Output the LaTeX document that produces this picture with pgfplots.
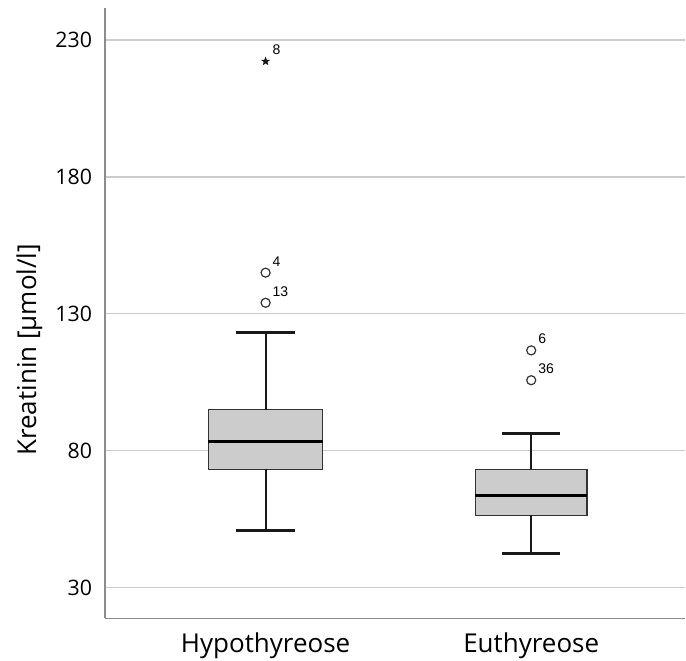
\documentclass[border=0pt]{standalone}
\usepackage{pgfplots}
\pgfplotsset{compat=1.18}
\usetikzlibrary{plotmarks}
\usepackage{fontspec}
\setmainfont{Open Sans}
\newfontfamily\arial{Liberation Sans}
\definecolor{boxfill}{HTML}{CCCCCC}
\definecolor{gridc}{HTML}{CCCCCC}
\definecolor{axc}{HTML}{8C8C8C}
\pgfdeclareplotmark{fstar}{%
  \pgfpathmoveto{\pgfqpointpolar{90}{\pgfplotmarksize}}%
  \pgfpathlineto{\pgfqpointpolar{126}{0.42\pgfplotmarksize}}%
  \pgfpathlineto{\pgfqpointpolar{162}{\pgfplotmarksize}}%
  \pgfpathlineto{\pgfqpointpolar{198}{0.42\pgfplotmarksize}}%
  \pgfpathlineto{\pgfqpointpolar{234}{\pgfplotmarksize}}%
  \pgfpathlineto{\pgfqpointpolar{270}{0.42\pgfplotmarksize}}%
  \pgfpathlineto{\pgfqpointpolar{306}{\pgfplotmarksize}}%
  \pgfpathlineto{\pgfqpointpolar{342}{0.42\pgfplotmarksize}}%
  \pgfpathlineto{\pgfqpointpolar{18}{\pgfplotmarksize}}%
  \pgfpathlineto{\pgfqpointpolar{54}{0.42\pgfplotmarksize}}%
  \pgfpathclose
  \pgfusepathqfill
}
\begin{document}
\begin{tikzpicture}
\begin{axis}[
  name=ax,
  scale only axis,
  width=435.75pt, height=458.25pt,
  xmin=0.395, xmax=2.58,
  ymin=18.7, ymax=241.7,
  ytick={30,80,130,180,230},
  xtick={1,2},
  xticklabels={Hypothyreose,Euthyreose},
  axis x line*=bottom, axis y line*=left,
  axis line style={axc, line width=1.1pt, -},
  ymajorgrids, grid style={gridc, line width=1.1pt},
  major tick length=0pt,
  /pgf/number format/assume math mode=true,
  yticklabel style={font=\fontsize{16}{18}\selectfont, color=black, anchor=east, inner sep=0pt, xshift=-9.5pt},
  xticklabel style={font=\fontsize{19.5}{22}\selectfont, color=black, anchor=base, inner sep=0pt, yshift=-25.5pt},
  ylabel={Kreatinin [µmol/l]},
  every axis y label/.style={at={(axis description cs:-0.13,0.44)}, anchor=center, rotate=90, font=\fontsize{19.5}{22}\selectfont},
  clip=false,
]
% Hypothyreose box
\addplot[fill=boxfill, draw=black!80, line width=1.1pt] coordinates {(0.785,73.1) (1.215,73.1) (1.215,95.0) (0.785,95.0)} -- cycle;
\addplot[draw=black, line width=2.4pt] coordinates {(0.785,83.3) (1.215,83.3)};
\addplot[draw=black!90, line width=1.4pt] coordinates {(1,95.0) (1,123.1)};
\addplot[draw=black!90, line width=1.4pt] coordinates {(1,73.1) (1,50.8)};
\addplot[draw=black!90, line width=2pt] coordinates {(0.89,123.1) (1.11,123.1)};
\addplot[draw=black!90, line width=2pt] coordinates {(0.89,50.8) (1.11,50.8)};
% Euthyreose box
\addplot[fill=boxfill, draw=black!80, line width=1.1pt] coordinates {(1.79,56.3) (2.21,56.3) (2.21,73.1) (1.79,73.1)} -- cycle;
\addplot[draw=black, line width=2.4pt] coordinates {(1.79,63.6) (2.21,63.6)};
\addplot[draw=black!90, line width=1.4pt] coordinates {(2,73.1) (2,86.2)};
\addplot[draw=black!90, line width=1.4pt] coordinates {(2,56.3) (2,42.4)};
\addplot[draw=black!90, line width=2pt] coordinates {(1.89,86.2) (2.11,86.2)};
\addplot[draw=black!90, line width=2pt] coordinates {(1.89,42.4) (2.11,42.4)};
% mild outliers
\addplot[only marks, mark=o, mark size=3.4pt, mark options={draw=black!80, line width=0.9pt},
  nodes near coords, point meta=explicit symbolic,
  nodes near coords style={anchor=base west, font=\arial\fontsize{10.5}{12}\selectfont, inner sep=0pt, xshift=4.9pt, yshift=4.9pt}]
  table[meta=lab] {
x y lab
1 145.0 4
1 134.0 13
2 116.6 6
2 105.7 36
};
% extreme outlier
\addplot[only marks, mark=fstar, mark size=3.6pt, mark options={fill=black!90},
  nodes near coords, point meta=explicit symbolic,
  nodes near coords style={anchor=base west, font=\arial\fontsize{10.5}{12}\selectfont, inner sep=0pt, xshift=5pt, yshift=4.9pt}]
  table[meta=lab] {
x y lab
1 222.2 8
};
\end{axis}
\path ([xshift=-78.75pt,yshift=-31.5pt]ax.south west) rectangle ([yshift=6pt]ax.north east);
\end{tikzpicture}
\end{document}
